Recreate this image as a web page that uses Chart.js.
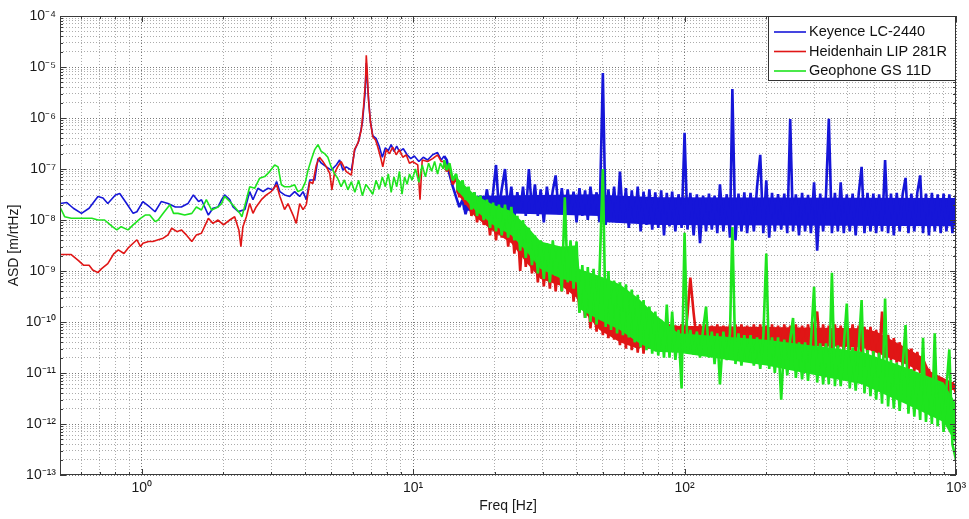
<!DOCTYPE html>
<html>
<head>
<meta charset="utf-8">
<script src="https://cdn.jsdelivr.net/npm/chart.js@4.4.0/dist/chart.umd.min.js"></script>
<style>
  html, body { margin: 0; padding: 0; background: #fff; }
  canvas { display: block; }
</style>
</head>
<body>
<canvas id="chart" width="969" height="519"></canvas>
<script>
// ASD spectra. Low part: [freq Hz, ASD m/rtHz]
const keyenceLow = [
  [0.50,2.1e-8],[0.53,2.2e-8],[0.56,1.7e-8],[0.60,1.35e-8],[0.64,1.7e-8],[0.69,2.9e-8],[0.72,2.7e-8],
  [0.75,2.1e-8],[0.80,3.1e-8],[0.83,3.3e-8],[0.88,2.1e-8],[0.93,1.35e-8],[0.96,1.45e-8],[1.01,2.3e-8],
  [1.07,1.8e-8],[1.12,1.45e-8],[1.18,2.3e-8],[1.25,2.1e-8],[1.33,1.8e-8],[1.40,1.8e-8],[1.48,2.1e-8],
  [1.55,3.1e-8],[1.62,2.3e-8],[1.66,2.5e-8],[1.76,1.25e-8],[1.83,1.7e-8],[1.91,1.8e-8],[1.97,2.5e-8],
  [2.02,3.1e-8],[2.11,2.5e-8],[2.17,1.8e-8],[2.27,1.46e-8],[2.40,1.6e-8],[2.50,3.6e-8],[2.57,2.5e-8],
  [2.68,4.2e-8],[2.80,3.6e-8],[2.92,4.2e-8],[3.05,3.9e-8],[3.14,5.7e-8],[3.23,3.6e-8],[3.36,3.1e-8],
  [3.51,2.9e-8],[3.66,3.6e-8],[3.82,2.9e-8],[3.93,3.6e-8],[4.04,2.5e-8],[4.16,6.1e-8],[4.34,6.1e-8],
  [4.46,1.6e-7],[4.59,1.3e-7],[4.79,1.1e-7],[4.99,9.5e-8],[5.21,1.2e-7],[5.36,1.5e-7],[5.51,9.5e-8],
  [5.67,1.1e-7],[5.92,9.5e-8],[6.1,2.4e-7],[6.3,3.5e-7],[6.5,8e-7],[6.65,3e-6],[6.72,1.2e-5],[6.8,4e-6],
  [6.95,9e-7],[7.1,4.5e-7],[7.3,4e-7],[7.5,2.8e-7],[7.7,1.7e-7],[7.9,2.6e-7],[8.1,2.3e-7],[8.3,3e-7],
  [8.5,2.2e-7],[8.7,2.8e-7],[8.9,2.2e-7],[9.2,2.5e-7],[9.5,1.9e-7],[9.8,1.6e-7],[10.1,1.8e-7],
  [10.5,1.4e-7],[10.9,1.7e-7],[11.3,1.5e-7],[11.8,1.9e-7],[12.3,2.1e-7],[12.7,1.5e-7]
];
const heidenhainLow = [
  [0.50,2.1e-9],[0.55,2.1e-9],[0.585,1.6e-9],[0.61,1.3e-9],[0.64,1.3e-9],[0.66,1.05e-9],[0.69,9.3e-10],
  [0.71,1.1e-9],[0.75,1.4e-9],[0.79,2.2e-9],[0.82,2.6e-9],[0.86,2.2e-9],[0.89,2.8e-9],[0.93,3.5e-9],
  [0.96,4.1e-9],[0.99,3.0e-9],[1.01,3.5e-9],[1.06,3.8e-9],[1.10,3.8e-9],[1.15,4.1e-9],[1.20,4.4e-9],
  [1.25,5.1e-9],[1.29,6.9e-9],[1.35,5.9e-9],[1.40,6.4e-9],[1.46,5.1e-9],[1.53,3.8e-9],[1.59,5.1e-9],
  [1.66,5.5e-9],[1.76,1.08e-8],[1.83,8.6e-9],[1.91,1.0e-8],[2.00,8.0e-9],[2.11,1.0e-8],[2.20,1.16e-8],
  [2.28,6.4e-9],[2.32,3.0e-9],[2.36,7.4e-9],[2.43,1.16e-8],[2.50,2.1e-8],[2.57,1.35e-8],[2.64,1.8e-8],
  [2.76,2.5e-8],[2.88,3.1e-8],[3.00,3.6e-8],[3.14,4.9e-8],[3.23,2.9e-8],[3.36,1.6e-8],[3.46,2.1e-8],
  [3.61,1.25e-8],[3.71,8.6e-9],[3.82,2.1e-8],[3.93,1.6e-8],[4.04,2.0e-8],[4.16,5.6e-8],[4.27,5.2e-8],
  [4.40,1.2e-7],[4.52,1.7e-7],[4.65,1.4e-7],[4.79,1.1e-7],[4.93,8.2e-8],[5.02,3.9e-8],[5.13,8.2e-8],
  [5.27,1.1e-7],[5.43,1.4e-7],[5.67,8.9e-8],[5.92,7.6e-8],[6.08,2.4e-7],[6.26,3.2e-7],[6.44,5.8e-7],
  [6.57,1.7e-6],[6.68,5.6e-6],[6.72,1.7e-5],[6.77,8.7e-6],[6.85,2.2e-6],[6.97,7.9e-7],[7.10,4.3e-7],
  [7.27,3.7e-7],[7.41,2.7e-7],[7.63,1.5e-7],[7.73,1.1e-7],[7.96,2.4e-7],[8.18,2.0e-7],[8.41,2.7e-7],
  [8.66,1.9e-7],[8.90,2.4e-7],[9.16,1.7e-7],[9.43,1.9e-7],[9.69,1.3e-7],[9.97,1.4e-7],[10.4,1.2e-7],
  [10.6,2.5e-8],[10.8,1.5e-7],[11.3,1.4e-7],[11.8,1.6e-7],[12.3,1.9e-7],[12.7,1.4e-7]
];
const geophoneLow = [
  [0.50,1.8e-8],[0.52,1.16e-8],[0.55,1.08e-8],[0.60,1.08e-8],[0.655,1.08e-8],[0.69,1.0e-8],[0.73,1.0e-8],
  [0.78,7.4e-9],[0.81,6.4e-9],[0.84,7.4e-9],[0.89,6.4e-9],[0.93,8.0e-9],[0.99,1.08e-8],[1.03,1.25e-8],
  [1.07,1.25e-8],[1.12,9.3e-9],[1.15,1.0e-8],[1.20,1.35e-8],[1.27,2.0e-8],[1.31,1.35e-8],[1.36,1.35e-8],
  [1.44,1.25e-8],[1.53,1.35e-8],[1.59,1.8e-8],[1.66,1.57e-8],[1.73,2.5e-8],[1.81,1.57e-8],[1.91,1.8e-8],
  [1.97,2.1e-8],[2.02,2.9e-8],[2.11,2.3e-8],[2.20,1.8e-8],[2.30,1.35e-8],[2.34,1.16e-8],[2.43,2.5e-8],
  [2.50,4.5e-8],[2.61,4.2e-8],[2.72,6.6e-8],[2.84,7.1e-8],[2.96,8.9e-8],[3.09,1.2e-7],[3.18,1.1e-7],
  [3.27,4.9e-8],[3.36,4.5e-8],[3.51,4.5e-8],[3.66,4.9e-8],[3.76,3.6e-8],[3.89,3.9e-8],[4.01,5.6e-8],
  [4.10,9.5e-8],[4.21,1.5e-7],[4.34,2.4e-7],[4.46,3.0e-7],[4.59,2.2e-7],[4.72,2.0e-7],[4.85,1.7e-7],
  [4.99,1.1e-7],[5.13,8.2e-8],[5.27,6.6e-8],[5.43,4.5e-8],[5.58,6.1e-8],[5.75,3.9e-8],[5.92,5.6e-8],
  [6.1,3.5e-8],[6.3,6e-8],[6.5,3e-8],[6.7,5e-8],[6.9,4e-8],[7.1,3.2e-8],[7.3,6e-8],[7.5,4e-8],
  [7.7,7e-8],[7.9,4.5e-8],[8.1,8e-8],[8.3,3.5e-8],[8.5,7e-8],[8.7,4.5e-8],[8.9,9e-8],[9.1,3.2e-8],
  [9.3,7e-8],[9.5,5e-8],[9.7,8e-8],[9.9,6e-8],[10.2,1.0e-7],[10.5,5.5e-8],[10.8,1.2e-7],[11.1,7e-8],
  [11.4,1.3e-7],[11.7,9e-8],[12.0,1.4e-7],[12.3,8e-8],[12.6,1.3e-7],[12.9,1.0e-7]
];

// noisy part above 13 Hz: shared frequencies, one value per frequency
const bandFreq = [
  13.0,13.3,13.6,14.0,14.4,14.8,15.2,15.6,16.0,16.4,
  16.8,17.2,17.7,18.2,18.7,19.2,19.7,20.2,20.7,21.2,
  21.8,22.4,23.0,23.6,24.2,24.8,25.4,26.0,26.7,27.4,
  28.1,28.8,29.5,30.3,31.1,31.9,32.7,33.5,34.4,35.3,
  36.2,37.1,38.0,39.0,40.0,41.0,42.0,43.0,44.0,45.0,
  46.2,47.4,48.6,50.0,51.2,52.4,53.6,55.0,56.4,57.8,
  59.3,60.8,62.3,63.9,65.5,67.2,68.9,70.6,72.4,74.2,
  76,78,80,82,84,86,88,90,92.5,95,
  97.5,100,102.5,105,108,111,114,117,120,123,
  126,129,132,135,139,143,147,150,154,158,
  162,166,170,175,180,185,190,195,200,205,
  210,215,221,227,233,239,245,251,257,264,
  271,278,285,292,300,308,316,324,332,340,
  349,358,367,376,386,396,406,416,427,438,
  449,460,472,484,496,508,521,534,548,562,
  576,590,605,620,636,652,668,685,702,720,
  738,756,775,795,815,835,856,878,900,922,
  945,970,1000
];
const keyenceBand = [
  1.8e-7,1.5e-7,8e-8,4.5e-8,2.8e-8,1.8e-8,2.5e-8,1.3e-8,2.2e-8,1.4e-8,
  3.5e-8,1.2e-8,3e-8,1.5e-8,4e-8,1.3e-8,3.5e-8,1.2e-7,1.6e-8,4e-8,
  1.0e-7,1.5e-8,4.5e-8,1.1e-8,3.5e-8,1.4e-8,4.5e-8,1.2e-8,1.0e-7,1.5e-8,
  5e-8,1.2e-8,4e-8,9e-9,4.5e-8,1.4e-8,3.8e-8,7.5e-8,1.3e-8,4.2e-8,
  1.1e-8,4e-8,1.3e-8,3.6e-8,9e-9,4.2e-8,1.2e-8,3.8e-8,1.0e-8,4.5e-8,
  1.3e-8,3.5e-8,9e-9,7.6e-6,8e-9,4e-8,1.1e-8,4.5e-8,9e-9,8.9e-8,
  1e-8,4.2e-8,7e-9,3.8e-8,9e-9,4.5e-8,6e-9,3.6e-8,8e-9,4e-8,
  6.5e-9,3.5e-8,7e-9,3.8e-8,5e-9,3.4e-8,7.5e-9,3.6e-8,6e-9,3.2e-8,
  7e-9,5.1e-7,6.5e-9,3.4e-8,5e-9,3.2e-8,3.5e-9,3e-8,6e-9,3.3e-8,
  6.5e-9,3e-8,5.5e-9,5e-8,6e-9,3.2e-8,4.5e-9,3.7e-6,4e-9,3.3e-8,
  6e-9,3.5e-8,5.5e-9,3.4e-8,6e-9,4.5e-8,1.9e-7,5.5e-9,6e-8,4.5e-9,
  3.4e-8,6e-9,3.2e-8,6.5e-9,3.3e-8,5.5e-9,9.5e-7,6e-9,3.2e-8,5e-9,
  3.4e-8,6e-9,3.1e-8,5.5e-9,5.5e-8,2.5e-9,3.3e-8,6e-9,3.2e-8,9.6e-7,
  5.5e-9,3.4e-8,6e-9,5.5e-8,5.5e-9,3.2e-8,6e-9,3.3e-8,5e-9,3.2e-8,
  1.1e-7,5.5e-9,3.4e-8,6e-9,3.3e-8,5.5e-9,3.2e-8,6e-9,1.5e-7,5.5e-9,
  3.3e-8,5e-9,3.4e-8,6e-9,3.2e-8,6.7e-8,5.5e-9,3.3e-8,6e-9,3.4e-8,
  7.5e-8,5.5e-9,3.3e-8,5e-9,3.4e-8,6e-9,3.2e-8,5.5e-9,3.3e-8,6e-9,
  3.2e-8,5.5e-9,3e-8
];
const heidenhainBand = [
  1.4e-7,9e-8,1.1e-7,5e-8,7e-8,2.8e-8,4.9e-8,2e-8,3.5e-8,1.2e-8,
  3e-8,9e-9,2.5e-8,8e-9,2e-8,5e-9,1.8e-8,4e-9,1.6e-8,4.5e-9,
  1.4e-8,3e-9,1.3e-8,2.2e-9,9e-9,1.0e-9,7e-9,1.2e-9,5e-9,9e-10,
  4e-9,6e-10,3e-9,5e-10,2.5e-9,4.5e-10,3e-9,4e-10,2e-9,4e-10,
  1.8e-9,3.5e-10,2e-9,2.5e-10,1.5e-9,1.6e-10,4.8e-10,1.2e-10,3.5e-10,7.5e-11,
  3e-10,6.5e-11,2.7e-10,5.5e-11,2.4e-10,4.8e-11,2.4e-10,4.5e-11,2.2e-10,3.5e-11,
  2e-10,3e-11,2.2e-10,2.8e-11,1.5e-10,2.5e-11,1.1e-10,2.4e-11,1e-10,3e-11,
  9.5e-11,3.5e-11,9.5e-11,4e-11,9e-11,4e-11,9e-11,4e-11,8.5e-11,4e-11,
  9e-11,4e-11,1.4e-10,7.4e-10,1.5e-10,4e-11,9e-11,3.5e-11,9e-11,3.5e-11,
  8.5e-11,3e-11,9e-11,3e-11,8.5e-11,3e-11,9e-11,3e-11,9e-11,2.8e-11,
  9e-11,3e-11,8.5e-11,2.8e-11,9e-11,3e-11,9e-11,2.5e-11,8.5e-11,2.8e-11,
  9e-11,3e-11,8.5e-11,2.5e-11,9e-11,2.8e-11,8.5e-11,3e-11,9e-11,2.5e-11,
  8.5e-11,2.8e-11,9e-11,3e-11,8.5e-11,1.6e-10,2.5e-11,9e-11,2.8e-11,8.5e-11,
  2.5e-11,9e-11,2.8e-11,8.5e-11,2.5e-11,8.5e-11,2.8e-11,9e-11,2.5e-11,8.5e-11,
  2.5e-11,8e-11,2.3e-11,8e-11,2.2e-11,7e-11,2e-11,1.6e-10,2e-11,5.6e-11,
  1.8e-11,4.8e-11,1.6e-11,4e-11,1.4e-11,3.4e-11,1.2e-11,3e-11,1.1e-11,2.6e-11,
  1e-11,2.2e-11,8e-12,1.2e-11,5e-12,9.3e-12,4.5e-12,8e-12,4e-12,7.4e-12,
  3.5e-12,6.6e-12,4e-12
];
const geophoneBand = [
  1.5e-7,9.5e-8,1.3e-7,6e-8,8e-8,3.5e-8,6e-8,2.5e-8,4.5e-8,1.6e-8,
  3.5e-8,1.2e-8,3e-8,1.0e-8,2.5e-8,7e-9,2.2e-8,6e-9,2e-8,5e-9,
  2e-8,4.5e-9,1.8e-8,4e-9,1.2e-8,2.5e-9,1.0e-8,1.8e-9,7e-9,1.3e-9,
  5e-9,9e-10,4e-9,7e-10,3.5e-9,6e-10,4e-9,8e-10,3e-9,4e-10,
  2.8e-8,6e-10,4e-9,4.5e-10,3.8e-9,1.5e-10,1.3e-9,1.2e-10,1.2e-9,1e-10,
  1.1e-9,9e-11,9e-10,1e-7,8e-11,1e-9,7e-11,6.5e-10,6e-11,6e-10,
  5.5e-11,5.5e-10,5e-11,4.3e-10,4e-11,3.4e-10,3.2e-11,2.7e-10,2.8e-11,2e-10,
  2.4e-11,1.6e-10,2.2e-11,1.1e-10,2e-11,2.2e-10,2e-11,1.6e-10,1.8e-11,7e-11,
  5e-12,5.6e-9,2.6e-11,7e-11,2.3e-11,6.5e-11,2e-11,7e-11,2e-10,2e-11,
  6.5e-11,1.5e-11,6e-11,6e-12,6.5e-11,1.8e-11,6e-11,7.3e-9,1.5e-11,6e-11,
  1.4e-11,5.5e-11,1.8e-11,5.5e-11,1.4e-11,5e-11,1.2e-11,5e-11,2.2e-9,1.2e-11,
  5e-11,1e-11,5e-11,3e-12,4.5e-11,9e-12,4.5e-11,1.2e-10,8e-12,4e-11,
  7.5e-12,4e-11,7e-12,4e-11,4.9e-10,6.5e-12,3.8e-11,6e-12,3.8e-11,6e-12,
  9.2e-10,5.5e-12,3.5e-11,5.5e-12,3.5e-11,2.3e-10,5e-12,3.2e-11,4.5e-12,3e-11,
  2.7e-10,4e-12,2.8e-11,3.5e-12,2.7e-11,3e-12,2.5e-11,2.5e-12,2.9e-10,2.2e-12,
  1.8e-11,2e-12,1.6e-11,1.8e-12,1.4e-11,8.7e-11,1.6e-12,1.2e-11,1.4e-12,1.0e-11,
  1.2e-12,4.9e-11,1.1e-12,8e-12,1e-12,6e-11,9e-13,6.5e-12,7e-13,5e-12,
  2.9e-11,4e-13,2e-13
];

// solid core of each noise band: [freq Hz, lower ASD, upper ASD]
const keyenceCore = [
  [15.2,1.6e-8,2.4e-8],[17.2,1.4e-8,3e-8],[48.6,1.2e-8,3.2e-8],[51.2,9e-9,3.1e-8],
  [80,8e-9,2.8e-8],[1000,7.5e-9,2.7e-8]
];
const heidenhainCore = [
  [14.4,3.5e-8,6e-8],[16.8,1.2e-8,2.6e-8],[19.7,6e-9,1.6e-8],[23.0,3.5e-9,1.1e-8],
  [26.0,1.5e-9,6e-9],[29.5,7e-10,3e-9],[35.3,5e-10,2.2e-9],[40.0,3e-10,1.6e-9],
  [41.0,2e-10,4.5e-10],[48.6,7e-11,2.7e-10],[57.8,4e-11,2e-10],[67.2,3e-11,1.2e-10],
  [78,4e-11,8.5e-11],[450,3.2e-11,7.5e-11],[508,2.5e-11,6.5e-11],[650,1.5e-11,3.2e-11],
  [760,1e-11,2e-11],[800,6e-12,1.1e-11],[1000,4.5e-12,6e-12]
];
const geophoneCore = [
  [14.4,4e-8,7e-8],[16.8,1.6e-8,3.2e-8],[19.7,8e-9,2e-8],[23.0,5e-9,1.5e-8],
  [26.0,2.5e-9,8e-9],[29.5,1.1e-9,3.8e-9],[35.3,7e-10,3e-9],[40.0,6e-10,3.2e-9],
  [41.0,1.8e-10,1.1e-9],[48.6,1.1e-10,8e-10],[57.8,7e-11,5.5e-10],[67.2,4e-11,3e-10],
  [78,2.6e-11,1.4e-10],[95,2.5e-11,6e-11],[200,1.4e-11,4.5e-11],[450,6e-12,2.6e-11],
  [650,2.5e-12,1.3e-11],[900,1.1e-12,6.5e-12],[1000,4e-13,2.5e-12]
];

const seriesNames = ["Keyence LC-2440", "Heidenhain LIP 281R", "Geophone GS 11D"];
const seriesColors = ["#1616d8", "#e01616", "#1ee41e"];

// axis ticks: decade exponents and the steps inside each decade
const xTickExps = [-1, 0, 1, 2, 3];
const yTickExps = [-13, -12, -11, -10, -9, -8, -7, -6, -5, -4];
const decadeSteps = [1, 2, 3, 4, 5, 6, 7, 8, 9];
const xRange = [0.5, 1000];
const yRange = [1e-13, 1e-4];
const bandStart = bandFreq[0];

const FONT = "'Liberation Sans', Arial, sans-serif";
const SUP = {"-": "\u207B", "0": "\u2070", "1": "\u00B9", "2": "\u00B2", "3": "\u00B3",
  "4": "\u2074", "5": "\u2075", "6": "\u2076", "7": "\u2077", "8": "\u2078", "9": "\u2079"};

function isDecade(v) {
  const l = Math.log10(v);
  return Math.abs(l - Math.round(l)) < 1e-6;
}
function decadeLabel(v) {
  const e = String(Math.round(Math.log10(v)));
  return "10" + e.split("").map(c => SUP[c]).join("");
}
function decadeTicks(exps, range) {
  const out = [];
  exps.forEach(e => decadeSteps.forEach(m => {
    const v = Number((m * Math.pow(10, e)).toPrecision(6));
    if (v >= range[0] * 0.999 && v <= range[1] * 1.001) out.push(v);
  }));
  return out.map(v => ({ value: v }));
}
function toPoints(low, band) {
  return low.map(p => ({ x: p[0], y: p[1] }))
    .concat(bandFreq.map((f, i) => ({ x: f, y: band[i] })));
}

// MATLAB style box with inward tick marks
const axesFrame = {
  id: "axesFrame",
  afterDatasetsDraw(chart) {
    const { ctx, chartArea: a, scales } = chart;
    ctx.save();
    ctx.strokeStyle = "#3a3a3a";
    ctx.lineWidth = 1;
    ctx.beginPath();
    scales.x.ticks.forEach(t => {
      const px = Math.round(scales.x.getPixelForValue(t.value)) + 0.5;
      const len = isDecade(t.value) ? 6 : 3;
      ctx.moveTo(px, a.bottom); ctx.lineTo(px, a.bottom - len);
      ctx.moveTo(px, a.top); ctx.lineTo(px, a.top + len);
    });
    scales.y.ticks.forEach(t => {
      const py = Math.round(scales.y.getPixelForValue(t.value)) + 0.5;
      const len = isDecade(t.value) ? 6 : 3;
      ctx.moveTo(a.left, py); ctx.lineTo(a.left + len, py);
      ctx.moveTo(a.right, py); ctx.lineTo(a.right - len, py);
    });
    ctx.stroke();
    ctx.strokeRect(Math.round(a.left) + 0.5, Math.round(a.top) + 0.5,
      Math.round(a.right - a.left) - 1, Math.round(a.bottom - a.top) - 1);
    ctx.restore();
  }
};

// legend box in the upper right corner of the axes
const boxLegend = {
  id: "boxLegend",
  afterDraw(chart) {
    const { ctx, chartArea: a } = chart;
    const w = 188, h = 65;
    const x0 = Math.round(a.right) - w, y0 = Math.round(a.top);
    ctx.save();
    ctx.fillStyle = "#fff";
    ctx.fillRect(x0, y0, w, h);
    ctx.strokeStyle = "#333";
    ctx.lineWidth = 1;
    ctx.strokeRect(x0 + 0.5, y0 + 0.5, w - 1, h - 1);
    ctx.font = "14.5px " + FONT;
    ctx.textBaseline = "middle";
    seriesNames.forEach((name, i) => {
      const y = y0 + 16 + i * 19.5;
      ctx.strokeStyle = seriesColors[i];
      ctx.lineWidth = 1.6;
      ctx.beginPath();
      ctx.moveTo(x0 + 6, y);
      ctx.lineTo(x0 + 38, y);
      ctx.stroke();
      ctx.fillStyle = "#111";
      ctx.fillText(name, x0 + 41, y);
    });
    ctx.restore();
  }
};

const gridColor = c => (c.tick && isDecade(c.tick.value)) ? "#7a7a7a" : "#acacac";

Chart.defaults.font.family = FONT;
Chart.defaults.color = "#1a1a1a";

const lows = [keyenceLow, heidenhainLow, geophoneLow];
const bands = [keyenceBand, heidenhainBand, geophoneBand];
const cores = [keyenceCore, heidenhainCore, geophoneCore];
const nSeries = seriesNames.length;

// main traces: 0..2, then for each series a filled core (upper edge, lower edge)
const traceSets = seriesNames.map((name, i) => ({
  label: name,
  data: toPoints(lows[i], bands[i]),
  borderColor: seriesColors[i],
  backgroundColor: seriesColors[i],
  borderWidth: 1.6,
  borderJoinStyle: "bevel",
  pointRadius: 0,
  fill: false,
  tension: 0,
  order: 5 - 2 * i,
  // the dense noise floor above 13 Hz reads as a thick band in the figure
  segment: { borderWidth: c => c.p0.parsed.x >= bandStart ? 2.6 : 1.6 }
}));
const coreSets = [];
cores.forEach((core, i) => {
  coreSets.push({
    label: seriesNames[i] + " core",
    data: core.map(p => ({ x: p[0], y: p[2] })),
    borderColor: "rgba(0,0,0,0)",
    borderWidth: 0,
    backgroundColor: seriesColors[i],
    pointRadius: 0,
    tension: 0,
    fill: { target: nSeries + 2 * i + 1 },
    order: 6 - 2 * i
  });
  coreSets.push({
    label: seriesNames[i] + " core low",
    data: core.map(p => ({ x: p[0], y: p[1] })),
    borderColor: "rgba(0,0,0,0)",
    borderWidth: 0,
    pointRadius: 0,
    tension: 0,
    fill: false,
    order: 9
  });
});

new Chart(document.getElementById("chart"), {
  type: "line",
  data: { datasets: traceSets.concat(coreSets) },
  options: {
    responsive: false,
    animation: false,
    devicePixelRatio: 1,
    layout: { padding: { top: 16, right: 13, left: 0, bottom: 0 } },
    plugins: { legend: { display: false }, tooltip: { enabled: false } },
    scales: {
      x: {
        type: "logarithmic",
        min: xRange[0],
        max: xRange[1],
        afterBuildTicks: s => { s.ticks = decadeTicks(xTickExps, xRange); },
        afterFit: s => { s.height = 44; s.paddingLeft = 0; s.paddingRight = 0; },
        ticks: {
          autoSkip: false, maxRotation: 0, padding: 5,
          font: { size: 14 },
          callback: v => isDecade(v) ? decadeLabel(v) : ""
        },
        grid: { color: gridColor, lineWidth: 1, drawTicks: false },
        border: { display: false, dash: [1, 2] },
        title: { display: true, text: "Freq [Hz]", font: { size: 14 }, padding: { top: 0, bottom: 4 } }
      },
      y: {
        type: "logarithmic",
        min: yRange[0],
        max: yRange[1],
        afterBuildTicks: s => { s.ticks = decadeTicks(yTickExps, yRange); },
        afterFit: s => { s.width = 60; s.paddingTop = 0; s.paddingBottom = 0; },
        ticks: {
          autoSkip: false, padding: 4,
          font: { size: 14 },
          callback: v => isDecade(v) ? decadeLabel(v) : ""
        },
        grid: { color: gridColor, lineWidth: 1, drawTicks: false },
        border: { display: false, dash: [1, 2] },
        title: { display: true, text: "ASD [m/rtHz]", font: { size: 14 }, padding: { top: 6, bottom: 0 } }
      }
    }
  },
  plugins: [axesFrame, boxLegend]
});
</script>
</body>
</html>
